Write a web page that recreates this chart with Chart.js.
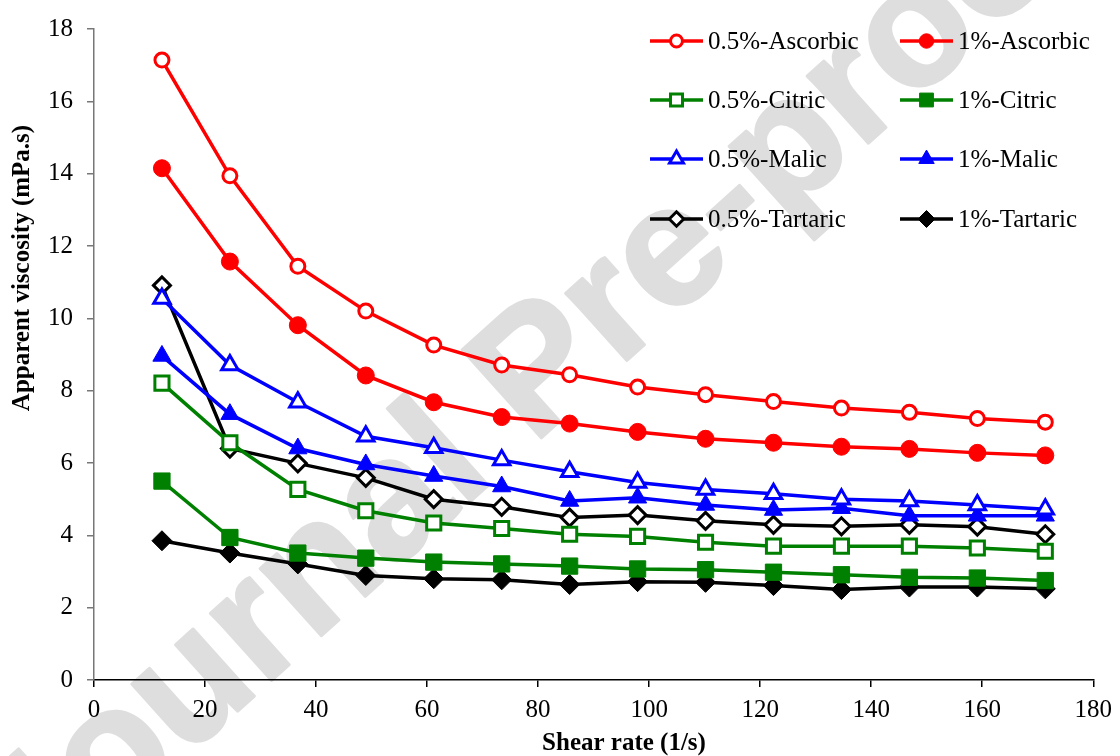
<!DOCTYPE html>
<html lang="en">
<head>
    <meta charset="UTF-8">
    <title>Apparent viscosity vs shear rate</title>
    <script src="https://cdn.jsdelivr.net/npm/chart.js"></script>
    <style>
        body { margin: 0; background: #fff; }
        canvas { display: block; }
    </style>
</head>
<body>
    <canvas id="grafico" width="1120" height="756"></canvas>

<script>
    // eixo x (taxa de cisalhamento, 1/s)
    const shearRate = [12.24, 24.48, 36.72, 48.96, 61.2, 73.44, 85.68, 97.92, 110.16, 122.4, 134.64, 146.88, 159.12, 171.36];

    // viscosidade aparente (mPa.s) de cada série
    const ascorbic05 = [17.14, 13.94, 11.44, 10.20, 9.26, 8.71, 8.44, 8.10, 7.89, 7.70, 7.52, 7.40, 7.23, 7.13];
    const ascorbic1 = [14.15, 11.57, 9.81, 8.42, 7.68, 7.27, 7.09, 6.86, 6.67, 6.56, 6.45, 6.39, 6.28, 6.21];
    const citric05 = [8.21, 6.56, 5.27, 4.68, 4.34, 4.19, 4.03, 3.97, 3.81, 3.70, 3.70, 3.70, 3.65, 3.56];
    const citric1 = [5.50, 3.94, 3.51, 3.37, 3.26, 3.21, 3.15, 3.07, 3.05, 2.98, 2.91, 2.84, 2.82, 2.75];
    const malic05 = [10.55, 8.71, 7.68, 6.74, 6.42, 6.08, 5.76, 5.46, 5.27, 5.15, 5.00, 4.95, 4.84, 4.72];
    const malic1 = [8.96, 7.35, 6.40, 5.96, 5.64, 5.35, 4.95, 5.04, 4.84, 4.70, 4.75, 4.54, 4.54, 4.54];
    const tartaric05 = [10.91, 6.40, 5.99, 5.59, 5.00, 4.79, 4.49, 4.56, 4.40, 4.29, 4.25, 4.29, 4.24, 4.03];
    const tartaric1 = [3.85, 3.51, 3.21, 2.89, 2.80, 2.77, 2.64, 2.72, 2.70, 2.61, 2.50, 2.57, 2.57, 2.52];

    const xTicks = [0, 20, 40, 60, 80, 100, 120, 140, 160, 180];
    const yTicks = [0, 2, 4, 6, 8, 10, 12, 14, 16, 18];

    const fonte = "'Liberation Serif', 'Times New Roman', serif";

    function pontos(valores) {
        return valores.map(function (v, i) { return { x: shearRate[i], y: v }; });
    }

    // cria uma série com marcador aberto (0.5%) ou cheio (1%)
    function serie(nome, valores, cor, estilo, raio, aberto) {
        return {
            label: nome,
            data: pontos(valores),
            borderColor: cor,
            borderWidth: 3.5,
            pointStyle: estilo,
            pointRadius: raio,
            pointHoverRadius: raio,
            pointBackgroundColor: aberto ? '#ffffff' : cor,
            pointBorderColor: cor,
            pointBorderWidth: aberto ? 3 : 1,
            fill: false,
            tension: 0
        };
    }

    const datasets = [
        serie('0.5%-Ascorbic', ascorbic05, '#ff0000', 'circle', 7, true),
        serie('1%-Ascorbic', ascorbic1, '#ff0000', 'circle', 8.5, false),
        serie('0.5%-Citric', citric05, '#008000', 'rect', 10, true),
        serie('1%-Citric', citric1, '#008000', 'rect', 11.5, false),
        serie('0.5%-Malic', malic05, '#0000ff', 'triangle', 9.5, true),
        serie('1%-Malic', malic1, '#0000ff', 'triangle', 10.5, false),
        serie('0.5%-Tartaric', tartaric05, '#000000', 'rectRot', 8.5, true),
        serie('1%-Tartaric', tartaric1, '#000000', 'rectRot', 10, false)
    ];

    // fundo branco + marca d'água
    const fundo = {
        id: 'fundo',
        beforeDraw(chart) {
            const ctx = chart.ctx;
            ctx.save();
            ctx.fillStyle = '#ffffff';
            ctx.fillRect(0, 0, chart.width, chart.height);
            ctx.translate(540, 375);
            ctx.rotate(-42 * Math.PI / 180);
            ctx.font = "bold 172px 'Liberation Sans', Arial, sans-serif";
            ctx.textAlign = 'center';
            ctx.textBaseline = 'middle';
            ctx.fillStyle = '#dedede';
            ctx.strokeStyle = '#dedede';
            ctx.lineWidth = 3;
            ctx.lineJoin = 'round';
            ctx.fillText('Journal Pre-proof', 0, 0);
            ctx.strokeText('Journal Pre-proof', 0, 0);
            ctx.restore();
        }
    };

    // títulos dos eixos e legenda desenhados à mão (posição igual à do original)
    const extras = {
        id: 'extras',
        afterDraw(chart) {
            const ctx = chart.ctx;
            ctx.save();
            ctx.fillStyle = '#000';
            ctx.font = 'bold 25px ' + fonte;
            ctx.textAlign = 'center';
            ctx.textBaseline = 'middle';
            ctx.fillText('Shear rate (1/s)', 624, 744);
            ctx.translate(23, 268);
            ctx.rotate(-Math.PI / 2);
            ctx.fillText('Apparent viscosity (mPa.s)', 0, 0);
            ctx.restore();

            // legenda em 2 colunas
            const colunas = [650, 900];
            const linhas = [41, 100, 159, 219];
            ctx.save();
            ctx.font = '25px ' + fonte;
            ctx.textBaseline = 'middle';
            ctx.textAlign = 'left';
            chart.data.datasets.forEach(function (ds, i) {
                const x0 = colunas[i % 2];
                const y0 = linhas[Math.floor(i / 2)];
                ctx.strokeStyle = ds.borderColor;
                ctx.lineWidth = 3.5;
                ctx.beginPath();
                ctx.moveTo(x0, y0);
                ctx.lineTo(x0 + 53, y0);
                ctx.stroke();
                ctx.fillStyle = ds.pointBackgroundColor;
                ctx.strokeStyle = ds.pointBorderColor;
                ctx.lineWidth = ds.pointBorderWidth;
                Chart.helpers.drawPoint(ctx, {
                    pointStyle: ds.pointStyle,
                    radius: ds.pointRadius * 0.85,
                    rotation: 0,
                    borderWidth: ds.pointBorderWidth
                }, x0 + 26.5, y0);
                ctx.fillStyle = '#000';
                ctx.fillText(ds.label, x0 + 58, y0 + 1);
            });
            ctx.restore();
        }
    };

    const config = {
        type: 'line',
        data: { datasets: datasets },
        options: {
            responsive: false,
            animation: false,
            devicePixelRatio: 1,
            layout: { padding: { top: 26, right: 25, left: 0, bottom: 0 } },
            plugins: {
                legend: { display: false },
                tooltip: { enabled: false }
            },
            scales: {
                x: {
                    type: 'linear',
                    min: xTicks[0],
                    max: xTicks[xTicks.length - 1],
                    afterBuildTicks: function (scale) {
                        scale.ticks = xTicks.map(function (v) { return { value: v }; });
                    },
                    afterFit: function (scale) { scale.height = 76; },
                    ticks: {
                        color: '#000',
                        font: { family: fonte, size: 25 },
                        padding: 8,
                        maxRotation: 0
                    },
                    grid: {
                        drawOnChartArea: false,
                        drawTicks: true,
                        tickLength: 7,
                        color: '#000',
                        lineWidth: 1.5
                    },
                    border: { display: true, color: '#000', width: 1.5 }
                },
                y: {
                    type: 'linear',
                    min: yTicks[0],
                    max: yTicks[yTicks.length - 1],
                    afterBuildTicks: function (scale) {
                        scale.ticks = yTicks.map(function (v) { return { value: v }; });
                    },
                    afterFit: function (scale) { scale.width = 94; },
                    ticks: {
                        color: '#000',
                        font: { family: fonte, size: 25 },
                        padding: 14
                    },
                    grid: {
                        drawOnChartArea: false,
                        drawTicks: true,
                        tickLength: 7,
                        color: '#777',
                        lineWidth: 1.5
                    },
                    border: { display: true, color: '#777', width: 1.5 }
                }
            }
        },
        plugins: [fundo, extras]
    };

    new Chart(document.getElementById('grafico'), config);
</script>
</body>
</html>
